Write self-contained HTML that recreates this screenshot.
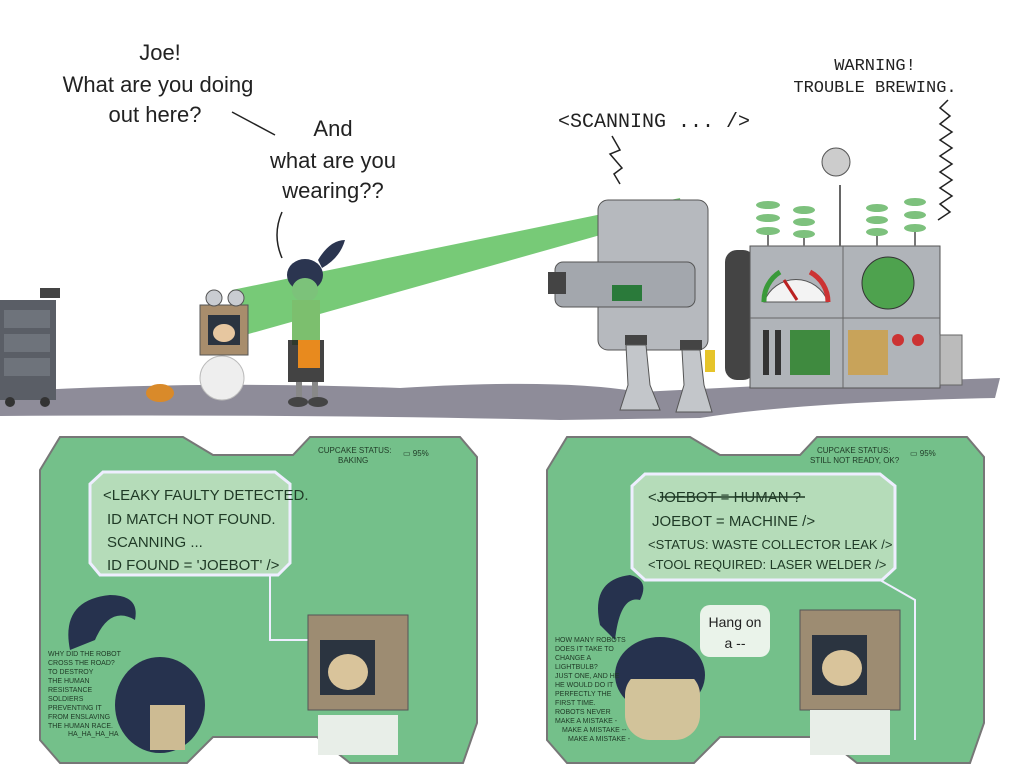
<!DOCTYPE html>
<html><head><style>
html,body{margin:0;padding:0;background:#fff}
svg{display:block}
.hand{font-family:"Liberation Sans",sans-serif;font-size:22px;fill:#222}
.mono{font-family:"Liberation Mono",monospace;fill:#222}
.lcd{font-family:"Liberation Sans",sans-serif;fill:#1f3a26}
</style></head><body>
<svg width="1024" height="779" viewBox="0 0 1024 779" xmlns="http://www.w3.org/2000/svg">
<path d="M0 392 Q200 380 400 388 Q560 378 640 392 L760 386 L1000 378 L995 398 Q800 402 700 418 L560 420 Q300 414 0 416 Z" fill="#8e8c99"/>
<text class="hand" x="160" y="60" text-anchor="middle">Joe!</text>
<text class="hand" x="158" y="92" text-anchor="middle">What are you doing</text>
<text class="hand" x="155" y="122" text-anchor="middle">out here?</text>
<path d="M232 112 L275 135" stroke="#222" stroke-width="1.5" fill="none"/>
<text class="hand" x="333" y="136" text-anchor="middle">And</text>
<text class="hand" x="333" y="168" text-anchor="middle">what are you</text>
<text class="hand" x="333" y="198" text-anchor="middle">wearing??</text>
<path d="M282 212 Q272 235 282 258" stroke="#222" stroke-width="1.5" fill="none"/>
<text class="mono" x="558" y="127" font-size="20">&lt;SCANNING ... /&gt;</text>
<path d="M612 136 l8 14 l-10 4 l12 14 l-8 6 l6 10" stroke="#222" stroke-width="1.5" fill="none"/>
<text class="mono" x="875" y="70" font-size="17" text-anchor="middle">WARNING!</text>
<text class="mono" x="875" y="92" font-size="17" text-anchor="middle">TROUBLE BREWING.</text>
<path d="M948 100 l-8 8 l10 8 l-10 8 l12 8 l-12 8 l12 8 l-12 8 l12 8 l-12 8 l12 8 l-12 8 l12 8 l-12 8 l10 8 l-12 8" stroke="#222" stroke-width="1.5" fill="none"/>
<rect x="0" y="300" width="56" height="100" fill="#5a5e66"/>
<rect x="4" y="310" width="46" height="18" fill="#6e737b"/><rect x="4" y="334" width="46" height="18" fill="#6e737b"/><rect x="4" y="358" width="46" height="18" fill="#6e737b"/>
<circle cx="10" cy="402" r="5" fill="#333"/><circle cx="45" cy="402" r="5" fill="#333"/>
<rect x="40" y="288" width="20" height="10" fill="#444"/>
<ellipse cx="160" cy="393" rx="14" ry="9" fill="#d98a2a"/>
<path d="M232 290 L680 198 L682 212 L245 335 Z" fill="#5fc15f" opacity="0.85"/>
<rect x="200" y="305" width="48" height="50" fill="#a88d6c" stroke="#555"/>
<rect x="208" y="315" width="32" height="30" fill="#2b3440"/>
<ellipse cx="224" cy="333" rx="11" ry="9" fill="#e7c7a0"/>
<circle cx="214" cy="298" r="8" fill="#c9ccd1" stroke="#555"/><circle cx="236" cy="298" r="8" fill="#c9ccd1" stroke="#555"/>
<ellipse cx="222" cy="378" rx="22" ry="22" fill="#eee" stroke="#bbb"/>
<ellipse cx="305" cy="275" rx="18" ry="16" fill="#2b3550"/>
<path d="M318 260 Q330 240 345 240 Q340 258 322 268Z" fill="#2b3550"/>
<ellipse cx="305" cy="290" rx="13" ry="12" fill="#7cc27a"/>
<rect x="292" y="300" width="28" height="45" fill="#7cbf6e"/>
<rect x="288" y="340" width="36" height="42" fill="#222" opacity="0.85"/>
<rect x="298" y="340" width="22" height="28" fill="#e88a1e"/>
<rect x="296" y="382" width="6" height="18" fill="#888"/><rect x="312" y="382" width="6" height="18" fill="#888"/>
<ellipse cx="298" cy="402" rx="10" ry="5" fill="#444"/><ellipse cx="318" cy="402" rx="10" ry="5" fill="#444"/>
<rect x="598" y="200" width="110" height="150" rx="10" fill="#b6b9be" stroke="#555"/>
<rect x="555" y="262" width="140" height="45" rx="8" fill="#a3a7ad" stroke="#555"/>
<rect x="548" y="272" width="18" height="22" fill="#444"/>
<rect x="612" y="285" width="30" height="16" fill="#2a7a3a"/>
<rect x="625" y="335" width="22" height="10" fill="#444"/><rect x="680" y="340" width="22" height="10" fill="#444"/>
<path d="M626 345 L646 345 L650 385 L660 410 L620 410 L628 385Z" fill="#c3c6ca" stroke="#555"/>
<path d="M682 350 L700 350 L704 385 L712 412 L676 412 L684 385Z" fill="#c3c6ca" stroke="#555"/>
<rect x="705" y="350" width="10" height="22" fill="#e6c42a"/>
<rect x="725" y="250" width="30" height="130" rx="12" fill="#444"/>
<rect x="750" y="246" width="190" height="142" fill="#b0b4b9" stroke="#555"/>
<line x1="843" y1="246" x2="843" y2="388" stroke="#666"/>
<line x1="750" y1="318" x2="940" y2="318" stroke="#666"/>
<rect x="940" y="335" width="22" height="50" fill="#bbb" stroke="#666"/>
<path d="M764 302 A34 34 0 0 1 828 302 Z" fill="#f3f3f3" stroke="#555"/>
<path d="M764 302 A34 34 0 0 1 780 272" stroke="#3a9a3a" stroke-width="5" fill="none"/>
<path d="M810 272 A34 34 0 0 1 828 302" stroke="#c33" stroke-width="5" fill="none"/>
<line x1="784" y1="280" x2="797" y2="300" stroke="#b22" stroke-width="3"/>
<circle cx="888" cy="283" r="26" fill="#4ea24e" stroke="#333"/>
<rect x="790" y="330" width="40" height="45" fill="#3f8a3f"/>
<rect x="848" y="330" width="40" height="45" fill="#c8a35a"/>
<circle cx="898" cy="340" r="6" fill="#c33"/><circle cx="918" cy="340" r="6" fill="#c33"/>
<rect x="763" y="330" width="6" height="45" fill="#333"/><rect x="775" y="330" width="6" height="45" fill="#333"/>
<g fill="#7dc17d"><ellipse cx="768" cy="205" rx="12" ry="4"/><ellipse cx="768" cy="218" rx="12" ry="4"/><ellipse cx="768" cy="231" rx="12" ry="4"/>
<ellipse cx="804" cy="210" rx="11" ry="4"/><ellipse cx="804" cy="222" rx="11" ry="4"/><ellipse cx="804" cy="234" rx="11" ry="4"/>
<ellipse cx="877" cy="208" rx="11" ry="4"/><ellipse cx="877" cy="220" rx="11" ry="4"/><ellipse cx="877" cy="232" rx="11" ry="4"/>
<ellipse cx="915" cy="202" rx="11" ry="4"/><ellipse cx="915" cy="215" rx="11" ry="4"/><ellipse cx="915" cy="228" rx="11" ry="4"/></g>
<g stroke="#777" stroke-width="2"><line x1="768" y1="235" x2="768" y2="246"/><line x1="804" y1="238" x2="804" y2="246"/><line x1="877" y1="236" x2="877" y2="246"/><line x1="915" y1="232" x2="915" y2="246"/></g>
<line x1="840" y1="185" x2="840" y2="246" stroke="#666" stroke-width="2"/>
<circle cx="836" cy="162" r="14" fill="#ccc" stroke="#555"/>

<g>
<path d="M60 437 L183 437 L213 455 L293 455 L310 437 L460 437 L477 457 L477 723 L463 763 L350 763 L317 737 L213 737 L187 763 L60 763 L40 740 L40 470 Z" fill="#74c08a" stroke="#777" stroke-width="2"/>
<path d="M103 472 L275 472 L290 484 L290 563 L278 575 L100 575 L90 563 L90 484Z" fill="#b5dcb9" stroke="#eef" stroke-width="3"/>
<text class="lcd" font-size="15" x="103" y="500">&lt;LEAKY FAULTY DETECTED.</text>
<text class="lcd" font-size="15" x="107" y="524">ID MATCH NOT FOUND.</text>
<text class="lcd" font-size="15" x="107" y="547">SCANNING ...</text>
<text class="lcd" font-size="15" x="107" y="570">ID FOUND = 'JOEBOT' /&gt;</text>
<text class="lcd" font-size="8" x="318" y="453" fill="#dfe">CUPCAKE STATUS:</text>
<text class="lcd" font-size="8" x="338" y="463" fill="#dfe">BAKING</text>
<text class="lcd" font-size="8" x="403" y="456" fill="#dfe">▭ 95%</text>
<path d="M270 575 L270 640 L375 640" stroke="#eef" stroke-width="2" fill="none"/>
<path d="M70 650 Q60 600 110 595 Q140 595 135 620 Q110 605 95 640Z" fill="#26324e"/>
<ellipse cx="160" cy="705" rx="45" ry="48" fill="#26324e"/>
<rect x="150" y="705" width="35" height="45" fill="#cdbb93"/>
<rect x="308" y="615" width="100" height="95" fill="#9d8c72" stroke="#555"/>
<rect x="320" y="640" width="55" height="55" fill="#2b3440"/>
<ellipse cx="348" cy="672" rx="20" ry="18" fill="#d9c49b"/>
<rect x="318" y="715" width="80" height="40" fill="#e8eee8"/>
<g class="lcd" font-size="7" fill="#dfe"><text x="48" y="656">WHY DID THE ROBOT</text><text x="48" y="665">CROSS THE ROAD?</text><text x="48" y="674">TO DESTROY</text><text x="48" y="683">THE HUMAN</text><text x="48" y="692">RESISTANCE</text><text x="48" y="701">SOLDIERS</text><text x="48" y="710">PREVENTING IT</text><text x="48" y="719">FROM ENSLAVING</text><text x="48" y="728">THE HUMAN RACE.</text><text x="68" y="736">HA_HA_HA_HA</text></g>
</g>
<g>
<path d="M567 437 L690 437 L720 455 L800 455 L817 437 L967 437 L984 457 L984 723 L970 763 L857 763 L824 737 L720 737 L694 763 L567 763 L547 740 L547 470 Z" fill="#74c08a" stroke="#777" stroke-width="2"/>
<path d="M645 474 L880 474 L895 486 L895 568 L882 580 L645 580 L632 568 L632 486Z" fill="#b5dcb9" stroke="#eef" stroke-width="3"/>
<text class="lcd" font-size="15" x="648" y="502">&lt;JOEBOT = HUMAN ?</text>
<line x1="660" y1="497" x2="805" y2="497" stroke="#1f3a26" stroke-width="1.5"/>
<text class="lcd" font-size="15" x="652" y="526">JOEBOT = MACHINE /&gt;</text>
<text class="lcd" font-size="13" x="648" y="549">&lt;STATUS: WASTE COLLECTOR LEAK /&gt;</text>
<text class="lcd" font-size="13" x="648" y="569">&lt;TOOL REQUIRED: LASER WELDER /&gt;</text>
<text class="lcd" font-size="8" x="817" y="453" fill="#dfe">CUPCAKE STATUS:</text>
<text class="lcd" font-size="8" x="810" y="463" fill="#dfe">STILL NOT READY, OK?</text>
<text class="lcd" font-size="8" x="910" y="456" fill="#dfe">▭ 95%</text>
<path d="M880 580 L915 600 L915 740" stroke="#eef" stroke-width="2" fill="none"/>
<rect x="700" y="605" width="70" height="52" rx="10" fill="#eaf3ea"/>
<text x="735" y="627" font-family="Liberation Sans,sans-serif" font-size="14" text-anchor="middle" fill="#222">Hang on</text>
<text x="735" y="648" font-family="Liberation Sans,sans-serif" font-size="14" text-anchor="middle" fill="#222">a --</text>
<path d="M600 625 Q590 580 630 575 Q650 580 640 600 Q620 595 615 640Z" fill="#26324e"/>
<ellipse cx="660" cy="675" rx="45" ry="38" fill="#26324e"/>
<rect x="625" y="670" width="75" height="70" rx="25" fill="#d2c39a"/>
<rect x="625" y="665" width="75" height="14" fill="#26324e"/>
<rect x="800" y="610" width="100" height="100" fill="#9d8c72" stroke="#555"/>
<rect x="812" y="635" width="55" height="60" fill="#2b3440"/>
<ellipse cx="842" cy="668" rx="20" ry="18" fill="#d9c49b"/>
<rect x="810" y="710" width="80" height="45" fill="#e8eee8"/>
<g class="lcd" font-size="7" fill="#dfe"><text x="555" y="642">HOW MANY ROBOTS</text><text x="555" y="651">DOES IT TAKE TO</text><text x="555" y="660">CHANGE A</text><text x="555" y="669">LIGHTBULB?</text><text x="555" y="678">JUST ONE, AND HE</text><text x="555" y="687">HE WOULD DO IT</text><text x="555" y="696">PERFECTLY THE</text><text x="555" y="705">FIRST TIME.</text><text x="555" y="714">ROBOTS NEVER</text><text x="555" y="723">MAKE A MISTAKE -</text><text x="562" y="732">MAKE A MISTAKE --</text><text x="568" y="741">MAKE A MISTAKE -</text></g>
</g>
</svg>
</body></html>
